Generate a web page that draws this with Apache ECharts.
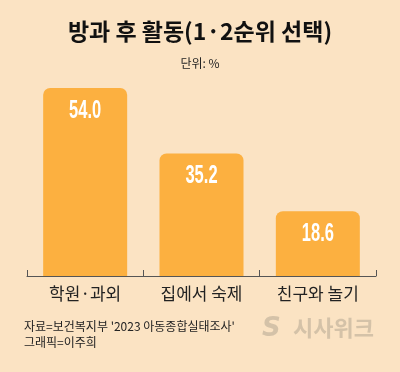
<!DOCTYPE html>
<html><head><meta charset="utf-8">
<script src="https://cdn.jsdelivr.net/npm/echarts@6/dist/echarts.min.js"></script>
<style>html,body{margin:0;padding:0;background:#FBE3C3;}#c{width:400px;height:372px;}</style>
</head><body><div id="c"></div>
<script>
const categories = ['학원·과외', '집에서 숙제', '친구와 놀기'];
const values = [54.0, 35.2, 18.6];
const titleText = '방과 후 활동(1·2순위 선택)';
const unitText = '단위: %';
const sourceText = "자료=보건복지부 '2023 아동종합실태조사'";
const creditText = '그래픽=이주희';
const brandText = '시사위크';

const KR = '"Noto Sans CJK KR", "Noto Sans", sans-serif';
const chart = echarts.init(document.getElementById('c'), null, {renderer: 'canvas'});
chart.setOption({
  backgroundColor: '#FBE3C3',
  animation: false,
  title: [
    {text: titleText, left: 'center', top: 15, textStyle: {fontFamily: KR, fontSize: 23, fontWeight: 'bold', color: '#111'}},
    {text: unitText, left: 'center', top: 52, textStyle: {fontFamily: KR, fontSize: 12, fontWeight: 'normal', color: '#222'}}
  ],
  grid: {left: 27, right: 24, top: 88, bottom: 96},
  xAxis: {
    type: 'category', data: categories,
    axisLine: {show: true, lineStyle: {color: '#555', width: 1}},
    axisTick: {show: true, inside: true, length: 6, alignWithLabel: false, lineStyle: {color: '#555', width: 1}},
    axisLabel: {fontFamily: KR, fontSize: 17, color: '#222', margin: 9},
    z: 10
  },
  yAxis: {type: 'value', min: 0, max: 54, show: false, splitLine: {show: false}},
  series: [{
    type: 'bar', data: values, barWidth: 84,
    itemStyle: {color: '#FCB040', borderRadius: [7, 7, 0, 0]}
  }, {
    type: 'custom', data: values, z: 5,
    renderItem: function (params, api) {
      const pt = api.coord([api.value(0), api.value(1)]);
      return {
        type: 'text', x: pt[0], y: pt[1] + 23, scaleX: 0.66,
        style: {
          text: api.value(1).toFixed(1), align: 'center', verticalAlign: 'middle',
          font: 'bold 25px "Liberation Sans", Arial, sans-serif', fill: '#fff'
        }
      };
    },
    encode: {x: 0, y: 1}
  }],
  graphic: [
    {type: 'text', left: 24, top: 320, style: {text: sourceText, font: '12px ' + KR, fill: '#222'}},
    {type: 'text', left: 24, top: 336, style: {text: creditText, font: '12px ' + KR, fill: '#222'}},
    {type: 'text', left: 262, top: 316, style: {text: 'S', font: 'italic bold 26px "DejaVu Sans", sans-serif', fill: '#D4C2A8'}},
    {type: 'text', left: 293, top: 317, style: {text: brandText, font: 'bold 22px ' + KR, fill: '#D4C2A8'}}
  ]
});
</script></body></html>
